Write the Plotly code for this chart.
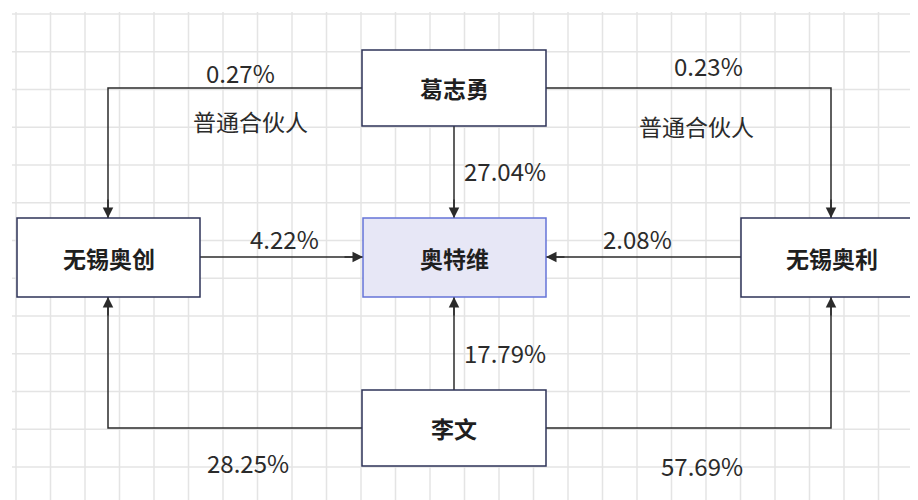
import plotly.graph_objects as go

# ---- data ----
nodes = ["葛志勇", "无锡奥创", "奥特维", "无锡奥利", "李文"]
shares = ["0.27%", "0.23%", "27.04%", "4.22%", "2.08%", "17.79%", "28.25%", "57.69%"]
edge_src = ["葛志勇", "葛志勇", "葛志勇", "无锡奥创", "无锡奥利", "李文", "李文", "李文"]
edge_dst = ["无锡奥创", "无锡奥利", "奥特维", "奥特维", "奥特维", "奥特维", "无锡奥创", "无锡奥利"]
roles = ["普通合伙人", "普通合伙人"]

# ---- layout geometry (pixel-like coordinates) ----
W, H = 918, 500
OFF = 8  # page body margin
box = {
    "葛志勇": (362, 546, 50, 126),
    "无锡奥创": (17, 200, 218, 297),
    "奥特维": (363, 546, 218, 297),
    "无锡奥利": (741, 922, 218, 297),
    "李文": (362, 546, 390, 466),
}
paths = [
    [(362, 88), (108, 88), (108, 218)],
    [(546, 88), (831, 88), (831, 218)],
    [(454, 126), (454, 218)],
    [(200, 257), (363, 257)],
    [(741, 257), (546, 257)],
    [(454, 390), (454, 297)],
    [(362, 428), (108, 428), (108, 297)],
    [(546, 428), (831, 428), (831, 297)],
]
share_pos = [(240, 72), (708, 65), (505, 170), (284, 238), (637, 238), (505, 352), (248, 462), (702, 465)]
role_pos = [(250, 121), (696, 126)]

LINE = "#2b2b2b"
TXT = "#2b2b2b"
FONT = "Noto Sans CJK SC"

fig = go.Figure()
shapes = []
annotations = []

# grid
gx0, gy0, dx, dy = 16, 14, 34.5, 37.75
x = gx0
while x <= W:
    shapes.append(dict(type="line", x0=x, x1=x, y0=12, y1=H, line=dict(color="#e4e4e4", width=1.5), layer="below"))
    x += dx
y = gy0
while y <= H:
    shapes.append(dict(type="line", x0=12, x1=W, y0=y, y1=y, line=dict(color="#e4e4e4", width=1.5), layer="below"))
    y += dy

# connectors
for pts in paths:
    fig.add_trace(go.Scatter(x=[p[0] for p in pts], y=[p[1] for p in pts], mode="lines",
                             line=dict(color=LINE, width=1.5), hoverinfo="skip", showlegend=False))
    (x1, y1), (x2, y2) = pts[-2], pts[-1]
    ddx = 0 if x2 == x1 else (1 if x2 > x1 else -1)
    ddy = 0 if y2 == y1 else (1 if y2 > y1 else -1)
    annotations.append(dict(x=x2, y=y2, ax=x2 - ddx * 20, ay=y2 - ddy * 20, xref="x", yref="y",
                            axref="x", ayref="y", text="", showarrow=True, arrowhead=2,
                            arrowsize=1.4, arrowwidth=1.5, arrowcolor=LINE, standoff=0))

# boxes
for name in nodes:
    x0, x1, y0, y1 = box[name]
    if name == "奥特维":
        shapes.append(dict(type="rect", x0=x0, x1=x1, y0=y0, y1=y1, fillcolor="#e7e7f6",
                           line=dict(color="#6574d8", width=1.5), layer="above"))
    else:
        shapes.append(dict(type="rect", x0=x0, x1=x1, y0=y0, y1=y1, fillcolor="#ffffff",
                           line=dict(color="#2e3358", width=1.5), layer="above"))
    cx = (x0 + min(x1, W + 4)) / 2
    annotations.append(dict(x=cx, y=(y0 + y1) / 2, text="<b>%s</b>" % name, showarrow=False,
                            xref="x", yref="y", font=dict(family=FONT, size=23, color="#1f1f1f")))

for s, (px, py) in zip(shares, share_pos):
    annotations.append(dict(x=px, y=py, text=s, showarrow=False, xref="x", yref="y",
                            font=dict(family=FONT, size=24, color=TXT)))
for r, (px, py) in zip(roles, role_pos):
    annotations.append(dict(x=px, y=py, text=r, showarrow=False, xref="x", yref="y",
                            font=dict(family=FONT, size=23, color=TXT)))

fig.update_layout(
    width=W - OFF, height=H - OFF,
    margin=dict(l=12 - OFF, r=0, t=12 - OFF, b=0),
    paper_bgcolor="white", plot_bgcolor="white",
    xaxis=dict(range=[12, W], visible=False, fixedrange=True),
    yaxis=dict(range=[H, 12], visible=False, fixedrange=True),
    shapes=shapes, annotations=annotations, showlegend=False,
)
fig.write_html("out.html")
